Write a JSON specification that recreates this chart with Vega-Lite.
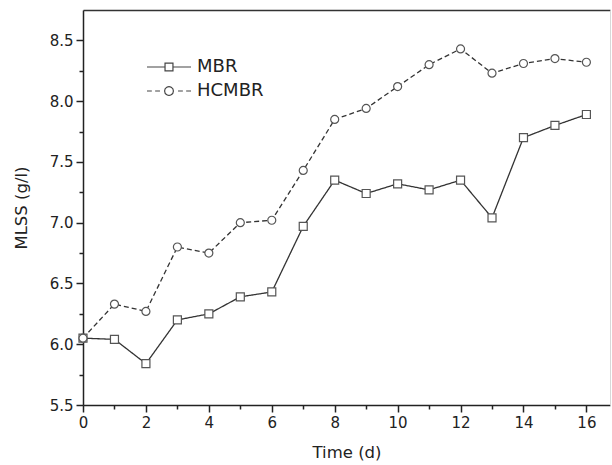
{
  "$schema": "https://vega.github.io/schema/vega-lite/v6.json",
  "width": 527,
  "height": 395,
  "autosize": {"type": "none"},
  "padding": {"left": 83, "top": 10, "right": 2, "bottom": 60},
  "background": "white",
  "config": {
    "view": {"stroke": null},
    "font": "DejaVu Sans",
    "axis": {
      "domainColor": "#222", "domainWidth": 1.5,
      "tickColor": "#222", "tickWidth": 1.5,
      "labelColor": "#222", "labelFont": "DejaVu Sans", "labelFontSize": 15,
      "titleFont": "DejaVu Sans", "titleFontSize": 16.5, "titleFontWeight": "normal", "titleColor": "#222",
      "grid": false, "labelOverlap": false, "labelFlush": false
    }
  },
  "data": {
    "values": [
      {"t": 0, "series": "MBR", "v": 6.05},
      {"t": 1, "series": "MBR", "v": 6.04},
      {"t": 2, "series": "MBR", "v": 5.84},
      {"t": 3, "series": "MBR", "v": 6.20},
      {"t": 4, "series": "MBR", "v": 6.25},
      {"t": 5, "series": "MBR", "v": 6.39},
      {"t": 6, "series": "MBR", "v": 6.43},
      {"t": 7, "series": "MBR", "v": 6.97},
      {"t": 8, "series": "MBR", "v": 7.35},
      {"t": 9, "series": "MBR", "v": 7.24},
      {"t": 10, "series": "MBR", "v": 7.32},
      {"t": 11, "series": "MBR", "v": 7.27},
      {"t": 12, "series": "MBR", "v": 7.35},
      {"t": 13, "series": "MBR", "v": 7.04},
      {"t": 14, "series": "MBR", "v": 7.70},
      {"t": 15, "series": "MBR", "v": 7.80},
      {"t": 16, "series": "MBR", "v": 7.89},
      {"t": 0, "series": "HCMBR", "v": 6.05},
      {"t": 1, "series": "HCMBR", "v": 6.33},
      {"t": 2, "series": "HCMBR", "v": 6.27},
      {"t": 3, "series": "HCMBR", "v": 6.80},
      {"t": 4, "series": "HCMBR", "v": 6.75},
      {"t": 5, "series": "HCMBR", "v": 7.00},
      {"t": 6, "series": "HCMBR", "v": 7.02},
      {"t": 7, "series": "HCMBR", "v": 7.43},
      {"t": 8, "series": "HCMBR", "v": 7.85},
      {"t": 9, "series": "HCMBR", "v": 7.94},
      {"t": 10, "series": "HCMBR", "v": 8.12},
      {"t": 11, "series": "HCMBR", "v": 8.30},
      {"t": 12, "series": "HCMBR", "v": 8.43},
      {"t": 13, "series": "HCMBR", "v": 8.23},
      {"t": 14, "series": "HCMBR", "v": 8.31},
      {"t": 15, "series": "HCMBR", "v": 8.35},
      {"t": 16, "series": "HCMBR", "v": 8.32}
    ]
  },
  "resolve": {"axis": {"x": "independent", "y": "independent"}},
  "layer": [
    {
      "mark": {"type": "line", "color": "#333", "strokeWidth": 1.3},
      "encoding": {
        "x": {
          "field": "t", "type": "quantitative",
          "scale": {"domain": [0, 16.75], "nice": false, "zero": false},
          "axis": {
            "orient": "bottom",
            "values": [0,1,2,3,4,5,6,7,8,9,10,11,12,13,14,15,16],
            "labelExpr": "datum.value % 2 === 0 ? datum.label : ''",
            "tickSize": {"condition": {"test": "datum.value % 2 === 0", "value": 7}, "value": 4},
            "labelPadding": 3,
            "title": "Time (d)",
            "titlePadding": 14
          }
        },
        "y": {
          "field": "v", "type": "quantitative",
          "scale": {"domain": [5.5, 8.75], "nice": false, "zero": false},
          "axis": {
            "orient": "left",
            "values": [5.5,5.75,6,6.25,6.5,6.75,7,7.25,7.5,7.75,8,8.25,8.5],
            "labelExpr": "datum.value % 0.5 === 0 ? format(datum.value, '.1f') : ''",
            "tickSize": {"condition": {"test": "datum.value % 0.5 === 0", "value": 7}, "value": 4},
            "labelPadding": 3,
            "title": "MLSS (g/l)",
            "titlePadding": 20
          }
        },
        "strokeDash": {
          "field": "series", "type": "nominal",
          "scale": {"domain": ["MBR", "HCMBR"], "range": [[1, 0], [5, 3]]},
          "legend": {
            "orient": "none", "legendX": 63, "legendY": 45,
            "title": null, "padding": 0,
            "symbolSize": 1936, "clipHeight": 24, "rowPadding": 0,
            "labelFontSize": 18, "labelFont": "DejaVu Sans", "labelColor": "#222", "labelOffset": 5,
            "symbolStrokeColor": "#444", "symbolFillColor": "white", "symbolStrokeWidth": 1.2,
            "encode": {
              "symbols": {
                "update": {
                  "shape": {"signal": "datum.value === 'MBR' ? 'M-1,0H-0.18M0.18,0H1M-0.18,-0.18H0.18V0.18H-0.18Z' : 'M-1,0H-0.78M-0.63,0H-0.41M0.41,0H0.63M0.78,0H1M0.2,0A0.2,0.2,0,0,1,0.1,0.1732M0.1,0.1732A0.2,0.2,0,0,1,-0.1,0.1732M-0.1,0.1732A0.2,0.2,0,0,1,-0.2,0M-0.2,0A0.2,0.2,0,0,1,-0.1,-0.1732M-0.1,-0.1732A0.2,0.2,0,0,1,0.1,-0.1732M0.1,-0.1732A0.2,0.2,0,0,1,0.2,0'"},
                  "size": {"value": 1936},
                  "strokeDash": {"value": [100, 0]},
                  "fill": {"value": "white"},
                  "stroke": {"value": "#444"}
                }
              }
            }
          }
        }
      }
    },
    {
      "transform": [{"filter": "datum.series === 'MBR'"}],
      "mark": {"type": "point", "shape": "square", "filled": true, "fill": "white", "fillOpacity": 1, "stroke": "#555", "strokeWidth": 1.2, "size": 64, "opacity": 1},
      "encoding": {
        "x": {
          "field": "t", "type": "quantitative",
          "scale": {"domain": [0, 16.75], "nice": false, "zero": false},
          "axis": {"orient": "top", "labels": false, "ticks": false, "title": null, "domain": true, "domainColor": "#333", "domainWidth": 1.5}
        },
        "y": {
          "field": "v", "type": "quantitative",
          "scale": {"domain": [5.5, 8.75], "nice": false, "zero": false},
          "axis": {"orient": "right", "labels": false, "ticks": false, "title": null, "domain": true, "domainColor": "#d8d8d8", "domainWidth": 1}
        }
      }
    },
    {
      "transform": [{"filter": "datum.series === 'HCMBR'"}],
      "mark": {"type": "point", "shape": "circle", "filled": true, "fill": "white", "fillOpacity": 1, "stroke": "#555", "strokeWidth": 1.2, "size": 64, "opacity": 1},
      "encoding": {
        "x": {
          "field": "t", "type": "quantitative",
          "scale": {"domain": [0, 16.75], "nice": false, "zero": false},
          "axis": null
        },
        "y": {
          "field": "v", "type": "quantitative",
          "scale": {"domain": [5.5, 8.75], "nice": false, "zero": false},
          "axis": null
        }
      }
    }
  ]
}
